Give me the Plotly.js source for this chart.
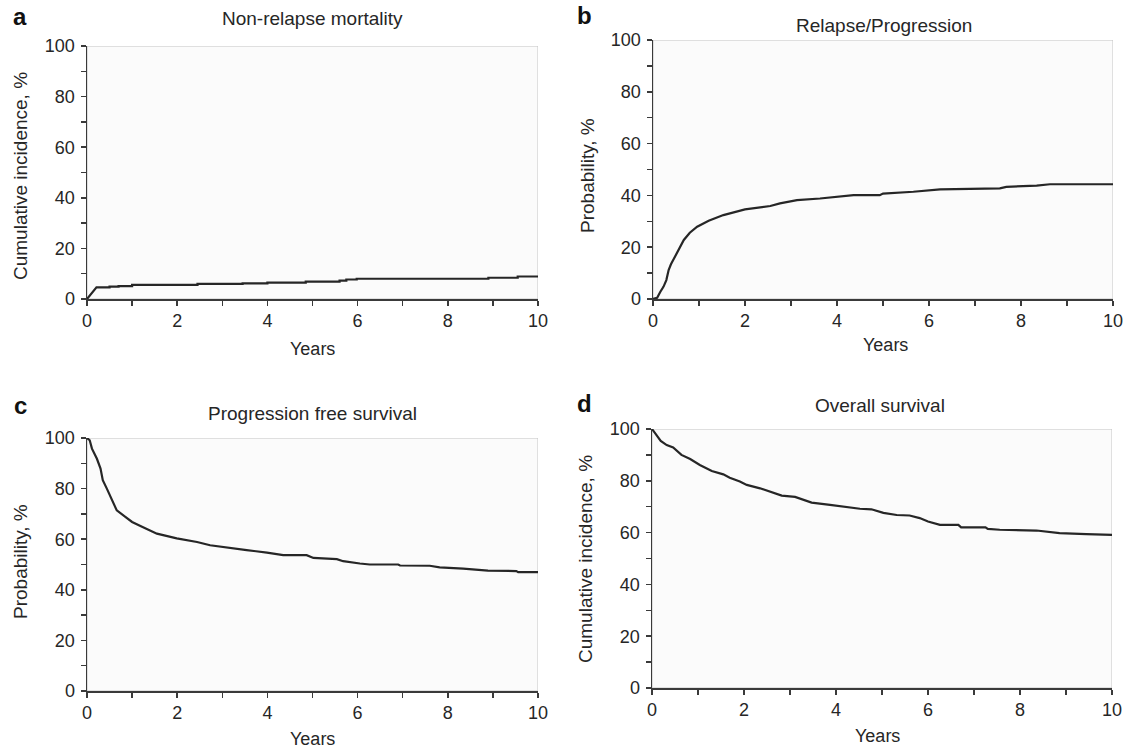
<!DOCTYPE html>
<html>
<head>
<meta charset="utf-8">
<script src="https://cdn.plot.ly/plotly-3.0.1.min.js"></script>
<style>html,body{margin:0;padding:0;background:#fff;}#chart{width:1127px;height:750px;}</style>
</head>
<body>
<div id="chart"></div>
<script>
// ---- Data (years, %) ----
const panelTitles = ["Non-relapse mortality", "Relapse/Progression", "Progression free survival", "Overall survival"];
const panelLetters = ["a", "b", "c", "d"];
const yTitles = ["Cumulative incidence, %", "Probability, %", "Probability, %", "Cumulative incidence, %"];
const xTitle = "Years";

// repeated x values mark the vertical jumps of the step curves
const nrmYears = [0, 0.21, 0.5, 0.5, 0.7, 0.7, 1.0, 1.0, 2.45, 2.45, 3.45, 3.45, 4.0, 4.0, 4.85, 4.85, 5.6, 5.6, 5.75, 5.75, 5.98, 5.98, 8.9, 8.9, 9.55, 9.55, 10];
const nrmPct   = [0, 4.6, 4.6, 4.9, 4.9, 5.1, 5.1, 5.6, 5.6, 6.0, 6.0, 6.2, 6.2, 6.5, 6.5, 6.9, 6.9, 7.3, 7.3, 7.7, 7.7, 8.0, 8.0, 8.4, 8.4, 8.9, 8.9];

const relYears = [0, 0.09, 0.16, 0.23, 0.29, 0.34, 0.39, 0.46, 0.56, 0.67, 0.80, 0.96, 1.21, 1.53, 2.0, 2.55, 2.76, 3.13, 3.63, 3.99, 4.36, 4.93, 5.0, 5.66, 6.24, 7.54, 7.68, 8.34, 8.63, 10];
const relPct   = [0, 0.5, 2.8, 4.8, 7.3, 11.2, 13.4, 15.7, 19.5, 22.8, 25.6, 27.9, 30.2, 32.4, 34.6, 35.9, 36.9, 38.2, 38.8, 39.5, 40.1, 40.1, 40.7, 41.4, 42.3, 42.7, 43.3, 43.8, 44.3, 44.3];

const pfsYears = [0, 0.06, 0.11, 0.22, 0.30, 0.35, 0.44, 0.55, 0.66, 0.85, 1.0, 1.22, 1.55, 1.99, 2.44, 2.73, 3.1, 3.54, 3.99, 4.35, 4.87, 5.02, 5.54, 5.68, 6.05, 6.27, 6.9, 6.94, 7.6, 7.82, 8.34, 8.63, 8.89, 9.52, 9.56, 10];
const pfsPct   = [100, 99.1, 95.8, 91.8, 87.9, 83.3, 80.0, 75.4, 71.4, 68.8, 66.8, 64.9, 62.2, 60.3, 58.9, 57.6, 56.6, 55.7, 54.7, 53.7, 53.7, 52.6, 52.1, 51.3, 50.4, 50.0, 50.0, 49.6, 49.5, 48.9, 48.4, 48.0, 47.6, 47.4, 47.0, 47.0];

const osYears = [0, 0.07, 0.19, 0.32, 0.46, 0.64, 0.83, 1.04, 1.30, 1.55, 1.69, 1.91, 2.06, 2.35, 2.56, 2.82, 3.11, 3.29, 3.47, 3.87, 4.23, 4.52, 4.77, 5.03, 5.32, 5.6, 5.82, 6.0, 6.26, 6.66, 6.72, 7.25, 7.3, 7.56, 8.36, 8.57, 8.86, 9.44, 10];
const osPct   = [100, 98.3, 95.4, 93.8, 92.9, 90.0, 88.4, 86.1, 83.8, 82.5, 81.2, 79.7, 78.4, 77.1, 75.8, 74.3, 73.8, 72.6, 71.6, 70.7, 69.8, 69.2, 69.0, 67.6, 66.8, 66.6, 65.6, 64.3, 63.0, 63.0, 62.0, 62.0, 61.4, 61.1, 60.8, 60.3, 59.8, 59.4, 59.1];

const xRange = [0, 10];
const yRange = [0, 100];

// ---- Layout helpers ----
const W = 1127, H = 750;
const px = v => v / W;
const py = v => 1 - v / H;
const FONT = '"Liberation Sans", Arial, Helvetica, sans-serif';
const INK = '#262626';

// pixel boxes of the four plot areas [left, right, top, bottom]
const boxes = [
  [87, 538, 46, 299],
  [653, 1113, 40, 299],
  [87, 538, 438, 691],
  [652, 1112, 429, 688]
];

const series = [[nrmYears, nrmPct], [relYears, relPct], [pfsYears, pfsPct], [osYears, osPct]];

const data = series.map((s, i) => ({
  x: s[0], y: s[1],
  xaxis: i === 0 ? 'x' : 'x' + (i + 1),
  yaxis: i === 0 ? 'y' : 'y' + (i + 1),
  type: 'scatter', mode: 'lines',
  line: {shape: 'linear', color: INK, width: 2.2},
  hoverinfo: 'skip', showlegend: false
}));

function xAxis(b, anchor) {
  return {
    domain: [px(b[0]), px(b[1])], anchor: anchor, range: xRange,
    dtick: 2, tick0: 0, ticks: 'outside', ticklen: 5, tickwidth: 1.5, tickcolor: '#3a3a3a',
    minor: {dtick: 1, ticks: 'outside', ticklen: 5, tickwidth: 1.5, tickcolor: '#3a3a3a', showgrid: false},
    showgrid: false, zeroline: false, showline: true, linecolor: '#3a3a3a', linewidth: 1.5,
    tickfont: {family: FONT, size: 18, color: INK}, fixedrange: true
  };
}
function yAxis(b, anchor) {
  return {
    domain: [py(b[3]), py(b[2])], anchor: anchor, range: yRange,
    dtick: 20, tick0: 0, ticks: 'outside', ticklen: 5, tickwidth: 1.5, tickcolor: '#3a3a3a',
    minor: {dtick: 10, ticks: 'outside', ticklen: 5, tickwidth: 1.5, tickcolor: '#3a3a3a', showgrid: false},
    showgrid: false, zeroline: false, showline: true, linecolor: '#3a3a3a', linewidth: 1.5,
    tickfont: {family: FONT, size: 18, color: INK}, ticklabelstandoff: 2, fixedrange: true
  };
}

const layout = {
  width: W, height: H,
  margin: {l: 0, r: 0, t: 0, b: 0},
  paper_bgcolor: '#ffffff', plot_bgcolor: '#fbfbfb',
  font: {family: FONT, size: 18, color: INK},
  showlegend: false,
  shapes: [], annotations: []
};

boxes.forEach((b, i) => {
  const n = i === 0 ? '' : String(i + 1);
  layout['xaxis' + n] = xAxis(b, 'y' + n);
  layout['yaxis' + n] = yAxis(b, 'x' + n);
  layout.shapes.push({
    type: 'rect', xref: 'x' + n, yref: 'y' + n,
    x0: xRange[0], x1: xRange[1], y0: yRange[0], y1: yRange[1],
    line: {color: '#c4c4c4', width: 1}, layer: 'below'
  });
});

// text positions (pixels): [letterX, letterY, titleX, titleY, yTitleX, yTitleY, xTitleX, xTitleY]
const textPos = [
  [20, 17, 312, 19, 20, 176, 312, 349],
  [584, 16, 884, 26, 587, 176, 885, 345],
  [20, 405, 312, 413, 20, 562, 312, 739],
  [584, 404, 880, 405, 585, 559, 878, 736]
];

textPos.forEach((p, i) => {
  layout.annotations.push({
    text: '<b>' + panelLetters[i] + '</b>', xref: 'paper', yref: 'paper',
    x: px(p[0]), y: py(p[1]), xanchor: 'center', yanchor: 'middle', showarrow: false,
    font: {family: FONT, size: 24, color: '#111'}
  });
  layout.annotations.push({
    text: panelTitles[i], xref: 'paper', yref: 'paper',
    x: px(p[2]), y: py(p[3]), xanchor: 'center', yanchor: 'middle', showarrow: false,
    font: {family: FONT, size: 19, color: INK}
  });
  layout.annotations.push({
    text: yTitles[i], xref: 'paper', yref: 'paper', textangle: -90,
    x: px(p[4]), y: py(p[5]), xanchor: 'center', yanchor: 'middle', showarrow: false,
    font: {family: FONT, size: 19, color: INK}
  });
  layout.annotations.push({
    text: xTitle, xref: 'paper', yref: 'paper',
    x: px(p[6]), y: py(p[7]), xanchor: 'center', yanchor: 'middle', showarrow: false,
    font: {family: FONT, size: 18, color: INK}
  });
});

Plotly.newPlot('chart', data, layout, {staticPlot: true, displayModeBar: false});
</script>
</body>
</html>
